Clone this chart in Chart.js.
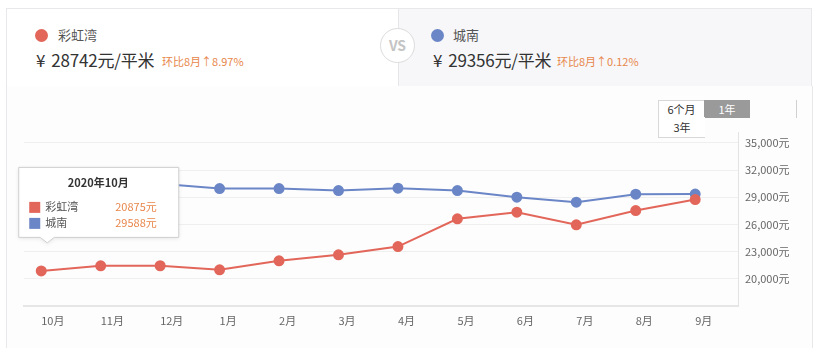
<!DOCTYPE html>
<html>
<head>
<meta charset="utf-8">
<script src="https://cdn.jsdelivr.net/npm/chart.js@4/dist/chart.umd.min.js"></script>
<style>
  html, body { margin: 0; padding: 0; background: #ffffff; }
  body { width: 820px; height: 348px; position: relative; overflow: hidden;
         font-family: "Noto Sans CJK SC", "Noto Sans", sans-serif; color: #333; }
  .card { position: absolute; box-sizing: border-box; border: 1px solid #e8e8ea; }
  .head-left { left: 6px; top: 8px; width: 393px; height: 79px; background: #ffffff; border-right: none; }
  .head-right { left: 398px; top: 8px; width: 414px; height: 79px; background: #f7f7f9; border-left: 1px solid #e6e6e8; }
  .chart-card { left: 6px; top: 86px; width: 807px; height: 280px; background: #fdfdfd; border-top: none; }
  .dot { position: absolute; width: 13px; height: 13px; border-radius: 50%; }
  .name { position: absolute; font-size: 13px; color: #555; line-height: 16px; }
  .price { position: absolute; font-size: 17px; color: #333; line-height: 20px; white-space: nowrap; letter-spacing: -0.2px; }
  .price .yen { margin-right: 6px; }
  .chg { position: absolute; font-size: 11px; color: #e8864a; line-height: 14px; white-space: nowrap; }
  .vs { position: absolute; left: 380px; top: 28px; width: 33px; height: 33px; border-radius: 50%;
        border: 1.5px solid #dcdcdc; background: #fff; color: #c4c4c4; font-size: 14px;
        text-align: center; line-height: 33px; font-weight: bold; box-sizing: content-box; }
  .btn { position: absolute; font-size: 11px; text-align: center; line-height: 17px; height: 18px; box-sizing: border-box; }
  #wrap { position: absolute; left: 0; top: 90px; width: 820px; height: 258px; }
</style>
</head>
<body>
<div class="card head-left"></div>
<div class="card head-right"></div>
<div class="card chart-card"></div>

<div class="dot" style="left:35px; top:29px; background:#e2665a;"></div>
<div class="name" style="left:58px; top:27px;">彩虹湾</div>
<div class="price" style="left:36px; top:50px;"><span class="yen">¥</span>28742元/平米</div>
<div class="chg" style="left:162px; top:54px;">环比8月↑8.97%</div>

<div class="dot" style="left:431px; top:29px; background:#6b86c7;"></div>
<div class="name" style="left:453px; top:27px;">城南</div>
<div class="price" style="left:433px; top:50px;"><span class="yen">¥</span>29356元/平米</div>
<div class="chg" style="left:557px; top:54px;">环比8月↑0.12%</div>

<div class="vs">VS</div>

<div class="btn" style="left:658px; top:100px; width:47px; border:1px solid #d8d8d8; background:#fff; color:#333;">6个月</div>
<div class="btn" style="left:704px; top:100px; width:46px; background:#9a9a9a; color:#fff; line-height:18px;">1年</div>
<div class="btn" style="left:658px; top:117px; width:47px; height:21px; line-height:20px; border-left:1px solid #d8d8d8; border-bottom:1px solid #d8d8d8; background:#fff; color:#333;">3年</div>
<div style="position:absolute; left:796px; top:100px; width:1px; height:18px; background:#d0d0d0;"></div>

<div id="wrap"><canvas id="c" width="820" height="258"></canvas></div>

<script>
// Months shown on the x axis (Oct 2020 – Sep 2021)
const months = ['10月', '11月', '12月', '1月', '2月', '3月', '4月', '5月', '6月', '7月', '8月', '9月'];
// Average listing price, 元/平米
const caihongwan = [20875, 21430, 21440, 20990, 21990, 22650, 23560, 26620, 27350, 25960, 27530, 28742];
const chengnan   = [29588, 30300, 30500, 29960, 29960, 29740, 30000, 29740, 29010, 28460, 29340, 29356];
// Labelled y ticks
const yTicks = [20000, 23000, 26000, 29000, 32000, 35000];
const seriesNames = ['彩虹湾', '城南'];
const tooltipTitle = '2020年10月';
const tooltipIndex = 0;

const RED = '#e2665a';
const BLUE = '#6b86c7';
const FONT = '"Noto Sans CJK SC", "Noto Sans", sans-serif';

// Hover-style info box pinned to the first month
const pinnedTip = {
  id: 'pinnedTip',
  afterDatasetsDraw(chart) {
    const ctx = chart.ctx;
    const pt = chart.getDatasetMeta(0).data[tooltipIndex];
    const tipX = pt.x + 6, tipY = pt.y - 28;
    const w = 160, h = 70;
    const left = tipX - 29, bottom = tipY - 6, top = bottom - h;
    ctx.save();
    ctx.shadowColor = 'rgba(0,0,0,0.10)';
    ctx.shadowBlur = 4;
    ctx.shadowOffsetY = 1;
    ctx.beginPath();
    ctx.moveTo(left + 0.5, top + 0.5);
    ctx.lineTo(left + w + 0.5, top + 0.5);
    ctx.lineTo(left + w + 0.5, bottom + 0.5);
    ctx.lineTo(tipX + 7, bottom + 0.5);
    ctx.lineTo(tipX, tipY);
    ctx.lineTo(tipX - 7, bottom + 0.5);
    ctx.lineTo(left + 0.5, bottom + 0.5);
    ctx.closePath();
    ctx.fillStyle = '#ffffff';
    ctx.fill();
    ctx.shadowColor = 'transparent';
    ctx.strokeStyle = '#cfcfcf';
    ctx.lineWidth = 1;
    ctx.stroke();

    ctx.fillStyle = '#333';
    ctx.font = 'bold 11px ' + FONT;
    ctx.textAlign = 'center';
    ctx.textBaseline = 'middle';
    ctx.fillText(tooltipTitle, left + w / 2, top + 16);

    const rows = [[seriesNames[0], caihongwan[tooltipIndex], RED], [seriesNames[1], chengnan[tooltipIndex], BLUE]];
    rows.forEach((r, i) => {
      const cy = top + 40 + i * 16;
      ctx.fillStyle = r[2];
      ctx.fillRect(left + 11, cy - 5, 11, 11);
      ctx.font = '11px ' + FONT;
      ctx.textAlign = 'left';
      ctx.fillStyle = '#555';
      ctx.fillText(r[0], left + 27, cy);
      ctx.fillStyle = '#e8864a';
      ctx.fillText(r[1] + '元', left + 97, cy);
    });
    ctx.restore();
  }
};

new Chart(document.getElementById('c'), {
  type: 'line',
  data: {
    datasets: [
      { label: seriesNames[0], data: caihongwan.map((v, i) => ({ x: i, y: v })),
        borderColor: RED, backgroundColor: RED, pointBackgroundColor: RED, pointBorderColor: RED,
        borderWidth: 2, pointRadius: 4.5, tension: 0 },
      { label: seriesNames[1], data: chengnan.map((v, i) => ({ x: i, y: v })),
        borderColor: BLUE, backgroundColor: BLUE, pointBackgroundColor: BLUE, pointBorderColor: BLUE,
        borderWidth: 2, pointRadius: 4.5, tension: 0 }
    ]
  },
  options: {
    responsive: false,
    animation: false,
    devicePixelRatio: 1,
    layout: { padding: { left: 24, top: 42, right: 0, bottom: 0 } },
    plugins: { legend: { display: false }, tooltip: { enabled: false } },
    events: [],
    scales: {
      x: {
        type: 'linear', min: -0.29, max: 11.72,
        afterBuildTicks: s => { s.ticks = months.map((m, i) => ({ value: i })); },
        afterFit: s => { s.height = 42; },
        grid: { display: false, drawTicks: false, tickLength: 0 },
        border: { display: true, color: '#e6e6e6', width: 2 },
        ticks: { callback: v => months[v], align: 'start', padding: 8, color: '#666',
                 font: { size: 11, family: FONT }, autoSkip: false, maxRotation: 0 }
      },
      y: {
        position: 'right', min: 17000, max: 36200,
        afterBuildTicks: s => { s.ticks = yTicks.map(v => ({ value: v })); },
        afterFit: s => { s.width = 82; },
        grid: { color: '#efefef', lineWidth: 1, drawTicks: false, tickLength: 0 },
        border: { display: true, color: '#e3e3e3', width: 1 },
        ticks: { callback: v => v.toLocaleString('en-US') + '元', padding: 7, color: '#666',
                 font: { size: 11, family: FONT } }
      }
    }
  },
  plugins: [pinnedTip]
});
</script>
</body>
</html>
